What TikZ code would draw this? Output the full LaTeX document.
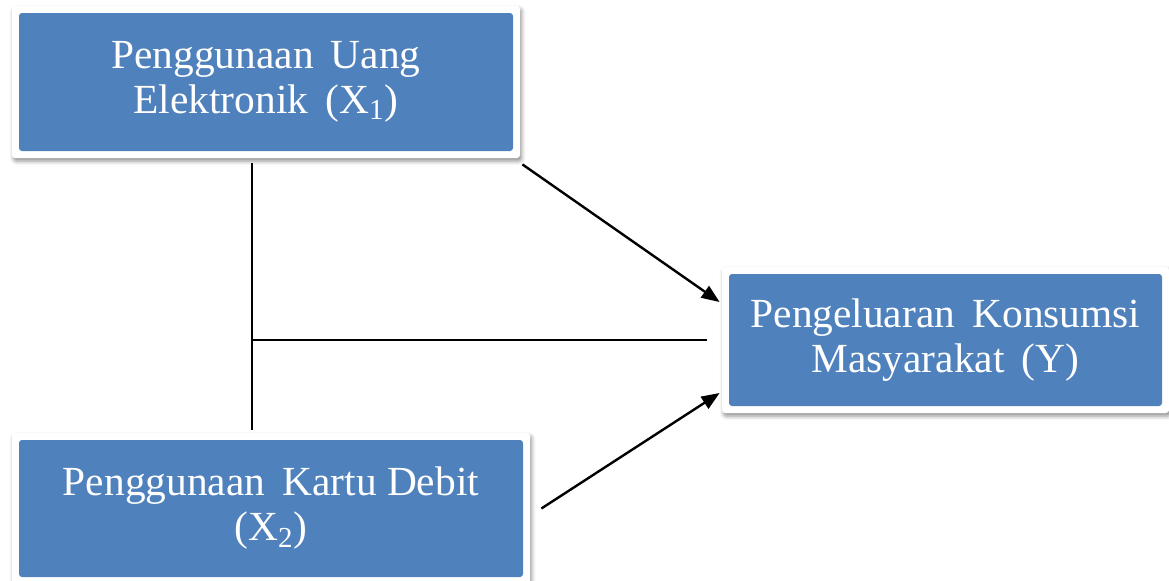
\documentclass[tikz,border=0pt]{standalone}
\usepackage{fontspec}
\setmainfont{Liberation Serif}
\usetikzlibrary{arrows.meta,shadows.blur}
\definecolor{boxblue}{HTML}{4F81BD}
\tikzset{vbox/.style={
    rectangle,
    rounded corners=1.5pt,
    fill=white,
    text=white,
    align=center,
    font=\fontsize{20.7pt}{22.5pt}\selectfont,
    blur shadow={shadow xshift=0.8pt,shadow yshift=-1.5pt,shadow blur radius=2pt,shadow opacity=45},
    path picture={\fill[boxblue]
      ([shift={(3.5pt,-3.5pt)}]path picture bounding box.north west) rectangle
      ([shift={(-3.5pt,3.5pt)}]path picture bounding box.south east);}
  },
  conn/.style={line width=1pt},
  arr/.style={line width=1.2pt,-{Triangle[length=9pt,width=7pt]}},
}
\begin{document}
\begin{tikzpicture}[x=0.5pt,y=-0.5pt]
  \useasboundingbox (0,0) rectangle (1169,580);
  \node [vbox,minimum width=254pt,minimum height=76pt] (x1) at (266,82)
    {Penggunaan\, Uang\\Elektronik\, (X\textsubscript{1})};
  \node [vbox,minimum width=223.5pt,minimum height=73pt] (y) at (945.5,340)
    {Pengeluaran\, Konsumsi\\Masyarakat\, (Y)};
  \node [vbox,minimum width=259pt,minimum height=75.5pt] (x2) at (271,508.5)
    {Penggunaan\, Kartu Debit\\(X\textsubscript{2})};
  \coordinate (junc) at ([xshift=-7pt]x1.south |- y.west);
  \draw[conn,shorten <=2.5pt,shorten >=1.5pt] ([xshift=-7pt]x1.south)
  -- ([xshift=-7pt]x1.south |- x2.north);
  \draw[conn,shorten >=7.5pt] (junc) -- (y.west);
  \draw[arr] ([shift={(1pt,-3pt)}]x1.south east) -- ([shift={(-1pt,19pt)}]y.west);
  \draw[arr] ([xshift=5.5pt]x2.east) -- ([shift={(-1pt,-26.5pt)}]y.west);
\end{tikzpicture}
\end{document}
